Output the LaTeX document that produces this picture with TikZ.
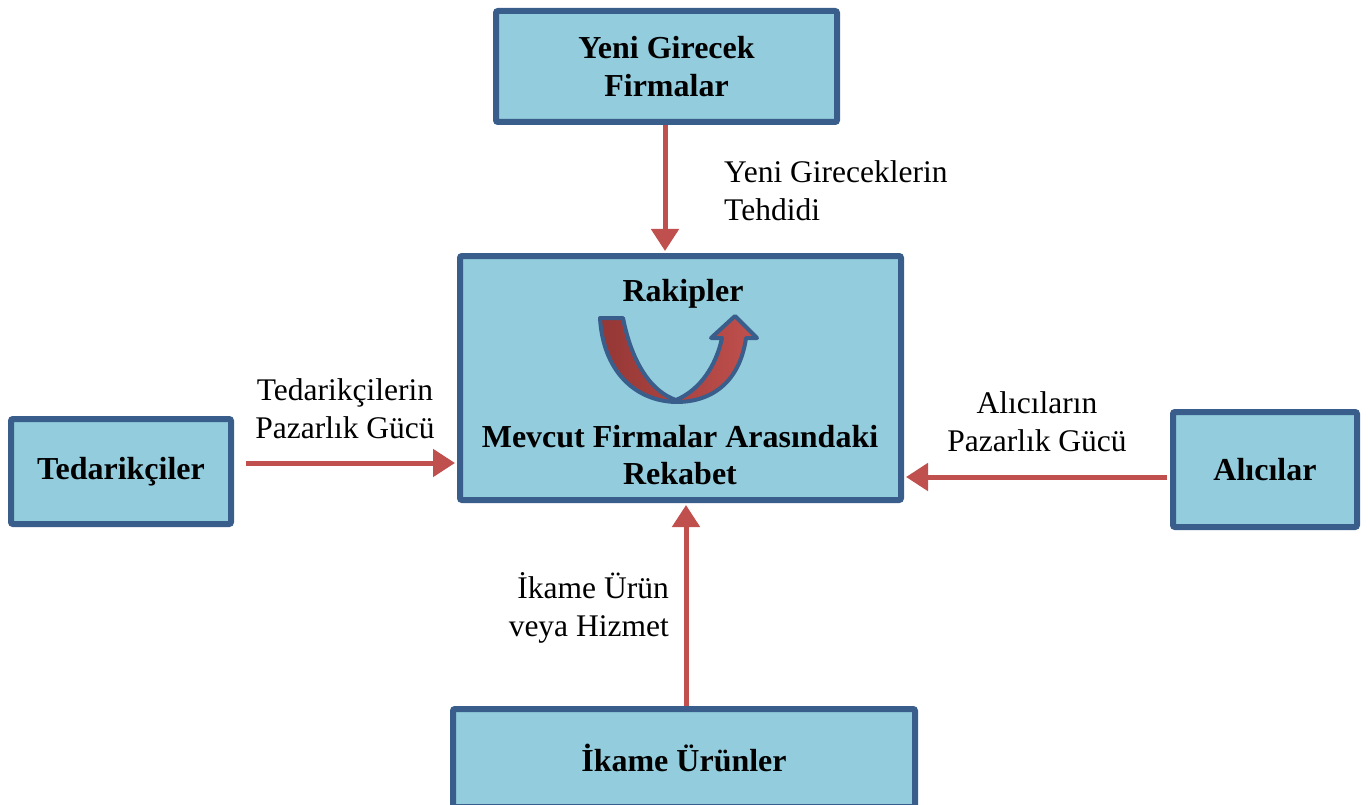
\documentclass[tikz,border=0pt]{standalone}
\usepackage{fontspec}
\setmainfont{Liberation Serif}
\usetikzlibrary{arrows.meta}
\definecolor{boxfill}{HTML}{93CDDD}
\definecolor{boxline}{HTML}{3A5E8C}
\definecolor{arrred}{HTML}{C0504D}
\definecolor{darkred}{HTML}{953735}
\tikzset{
  box/.style={draw=boxline, fill=boxfill, line width=6pt, rounded corners=2pt,
    inner sep=0pt, font=\fontsize{32}{38}\selectfont\bfseries, align=center},
  arr/.style={draw=arrred, line width=5pt, -{Triangle[length=22pt,width=27pt]}},
  lbl/.style={font=\fontsize{31.5}{38}\selectfont, inner sep=0pt},
  btxt/.style={font=\fontsize{32}{37}\selectfont\bfseries, inner sep=0pt, align=center}
}
\begin{document}
\begin{tikzpicture}[x=1pt,y=-1pt]
\useasboundingbox (0,0) rectangle (1368,805);
\node[box, minimum width=341pt, minimum height=111pt] (top) at (666.5,66.5) {Yeni Girecek\\Firmalar};
\node[box, minimum width=441pt, minimum height=244pt] (mid) at (680.5,378) {};
\node[box, minimum width=220pt, minimum height=105pt] (left) at (121,471.5) {\raisebox{-3pt}{Tedarikçiler}};
\node[box, minimum width=184pt, minimum height=115pt] (right) at (1265,469.5) {\raisebox{-2pt}{Alıcılar}};
\node[box, minimum width=462pt, minimum height=98pt] (bot) at (684,758) {İkame Ürünler};
\node[btxt] (rak) at (683,294) {Rakipler};
\node[btxt] (mev) at (680,455) {Mevcut Firmalar Arasındaki\\Rekabet};
% curved arrow
\path[draw=boxline, line width=4pt, line join=round, left color=darkred, right color=arrred]
  (600,318) -- (623,318) .. controls (632,364) and (652,392) .. (676,400)
  .. controls (700,390) and (716,366) .. (722,338) -- (711,338) -- (735,316) -- (757,338) -- (746,338)
  .. controls (740,380) and (714,402) .. (676,402)
  .. controls (634,401) and (603,370) .. (600,318) -- cycle;
% arrows
\coordinate (ls) at ([xshift=12pt,yshift=8.5pt]left.east);
\coordinate (rs) at ([xshift=-3pt,yshift=-7.5pt]right.west);
\coordinate (bs) at ([xshift=2pt]bot.north);
\coordinate (ts) at ([xshift=-1.5pt]top.south);
\draw[arr] (ts) -- ([yshift=2pt]ts |- mid.north);
\draw[arr] (ls) -- ([xshift=-2pt]ls -| mid.west);
\draw[arr] (rs) -- ([xshift=2pt]rs -| mid.east);
\draw[arr] (bs) -- ([yshift=-2pt]bs |- mid.south);
% labels
\node[lbl, anchor=west, align=left] (l1) at (724,191) {Yeni Gireceklerin\\Tehdidi};
\node[lbl, align=center] (l2) at (345,409) {Tedarikçilerin\\Pazarlık Gücü};
\node[lbl, align=center] (l3) at (1037,422) {Alıcıların\\Pazarlık Gücü};
\node[lbl, anchor=east, align=right] (l4) at (669,608) {İkame Ürün\\veya Hizmet};
\end{tikzpicture}
\end{document}
